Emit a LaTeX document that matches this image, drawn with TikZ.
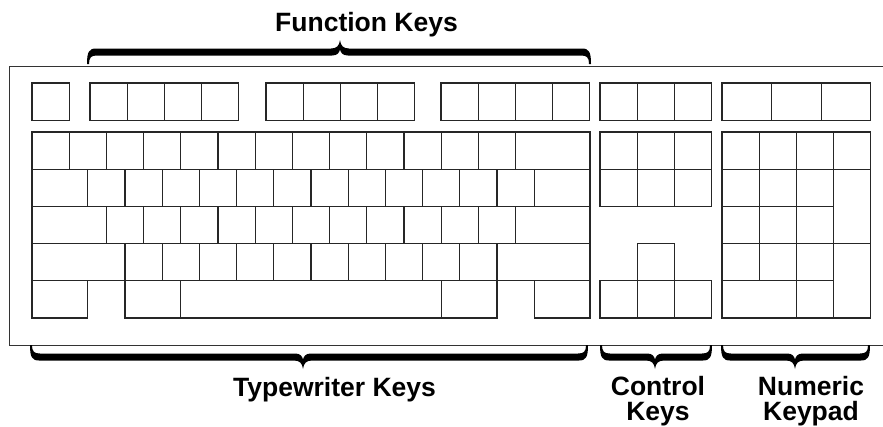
\documentclass[tikz,border=0pt]{standalone}
\usepackage{fontspec}
\setmainfont{Liberation Sans}

\tikzset{
  keycap/.style = {draw = black!85, line width = 1.1pt, shape = rectangle, minimum width = {#1*37.2pt}, minimum height = 37.2pt, inner sep = 0pt, outer sep = 0pt, anchor = north west},
  keycap/.default = 1,
  tallkey/.style = {keycap, minimum height = 74.4pt},
  grouplabel/.style = {font = \fontsize{26.5}{24.5}\selectfont\bfseries, align = center, inner sep = 0pt, anchor = base},
  rim/.style = {draw = black!80, line width = 1pt}
}

\begin{document}
\begin{tikzpicture}[x = 1pt, y = -1pt]
\useasboundingbox (0,0) rectangle (883,426);
\draw[rim] (883,66) -- (9,66) -- (9,345) -- (883,345);

% function row
\node[keycap] (esc) at (32,83) {};
\foreach \i in {1,...,4}
  \node[keycap] (f\i) at ({90+37.2*(\i-1)},83) {};
\foreach \i in {5,...,8}
  \node[keycap] (f\i) at ({266+37.2*(\i-5)},83) {};
\foreach \i in {9,...,12}
  \node[keycap] (f\i) at ({441+37.2*(\i-9)},83) {};

% typewriter block
\foreach \i in {0,...,12}
  \node[keycap] (num\i) at ({32+37.2*\i},132) {};
\node[keycap = 2] (backspace) at ({32+37.2*13},132) {};

\node[keycap = 1.5] (tab) at (32,169.2) {};
\foreach \i in {0,...,11}
  \node[keycap] (qrow\i) at ({32+37.2*(1.5+\i)},169.2) {};
\node[keycap = 1.5] (bslash) at ({32+37.2*13.5},169.2) {};

\node[keycap = 2] (caps) at (32,206.4) {};
\foreach \i in {0,...,10}
  \node[keycap] (arow\i) at ({32+37.2*(2+\i)},206.4) {};
\node[keycap = 2] (enter) at ({32+37.2*13},206.4) {};

\node[keycap = 2.5] (lshift) at (32,243.6) {};
\foreach \i in {0,...,9}
  \node[keycap] (zrow\i) at ({32+37.2*(2.5+\i)},243.6) {};
\node[keycap = 2.5] (rshift) at ({32+37.2*12.5},243.6) {};

\node[keycap = 1.5] (lctrl) at (32,280.8) {};
\node[keycap = 1.5] (lalt) at ({32+37.2*2.5},280.8) {};
\node[keycap = 7] (space) at ({32+37.2*4},280.8) {};
\node[keycap = 1.5] (ralt) at ({32+37.2*11},280.8) {};
\node[keycap = 1.5] (rctrl) at ({32+37.2*13.5},280.8) {};

% control block
\foreach \i in {0,1,2} {
  \node[keycap] (sys\i) at ({600+37.2*\i},83) {};
  \node[keycap] (ins\i) at ({600+37.2*\i},132) {};
  \node[keycap] (del\i) at ({600+37.2*\i},169.2) {};
  \node[keycap] (arrow\i) at ({600+37.2*\i},280.8) {};
}
\node[keycap] (uparrow) at (637.2,243.6) {};

% numeric keypad
\foreach \i in {0,1,2}
  \node[keycap = 4/3] (lamp\i) at ({722+49.6*\i},83) {};
\foreach \i in {0,...,3}
  \node[keycap] (pad\i) at ({722+37.2*\i},132) {};
\foreach \i in {0,1,2} {
  \node[keycap] (pada\i) at ({722+37.2*\i},169.2) {};
  \node[keycap] (padb\i) at ({722+37.2*\i},206.4) {};
  \node[keycap] (padc\i) at ({722+37.2*\i},243.6) {};
}
\node[tallkey] (padplus) at (833.6,169.2) {};
\node[tallkey] (padenter) at (833.6,243.6) {};
\node[keycap = 2] (padzero) at (722,280.8) {};
\node[keycap] (paddot) at (796.4,280.8) {};

% braces
\foreach \xa/\xb/\xt/\ye/\d in {87/591/340/64/-1, 30/588/303/345/1, 600/712/655/345/1, 721/870/795/345/1}
  \fill[black] (\xa,\ye)
    .. controls ({\xa},{\ye+\d*12}) and ({\xa+2},{\ye+\d*15.5}) .. ({\xa+9},{\ye+\d*15.5})
    -- ({\xt-9},{\ye+\d*15.5})
    .. controls ({\xt-3},{\ye+\d*15.5}) and ({\xt-0.7},{\ye+\d*18.5}) .. ({\xt},{\ye+\d*24})
    .. controls ({\xt+0.7},{\ye+\d*18.5}) and ({\xt+3},{\ye+\d*15.5}) .. ({\xt+9},{\ye+\d*15.5})
    -- ({\xb-9},{\ye+\d*15.5})
    .. controls ({\xb-2},{\ye+\d*15.5}) and ({\xb},{\ye+\d*12}) .. ({\xb},{\ye})
    -- ({\xb-2},{\ye})
    .. controls ({\xb-2},{\ye+\d*6.5}) and ({\xb-4},{\ye+\d*8.5}) .. ({\xb-10},{\ye+\d*8.5})
    -- ({\xt+8},{\ye+\d*8.5})
    .. controls ({\xt+3},{\ye+\d*8.5}) and ({\xt+0.7},{\ye+\d*11}) .. ({\xt},{\ye+\d*14.5})
    .. controls ({\xt-0.7},{\ye+\d*11}) and ({\xt-3},{\ye+\d*8.5}) .. ({\xt-8},{\ye+\d*8.5})
    -- ({\xa+10},{\ye+\d*8.5})
    .. controls ({\xa+4},{\ye+\d*8.5}) and ({\xa+2},{\ye+\d*6.5}) .. ({\xa+2},{\ye})
    -- cycle;

% labels
\node[grouplabel] (fnlabel) at (366.5,31.7) {Function Keys};
\node[grouplabel] (twlabel) at (334.5,396.7) {Typewriter Keys};
\node[grouplabel] (ctlabel) at (658,420) {Control\\Keys};
\node[grouplabel] (nplabel) at (811,420) {Numeric\\Keypad};
\end{tikzpicture}
\end{document}
